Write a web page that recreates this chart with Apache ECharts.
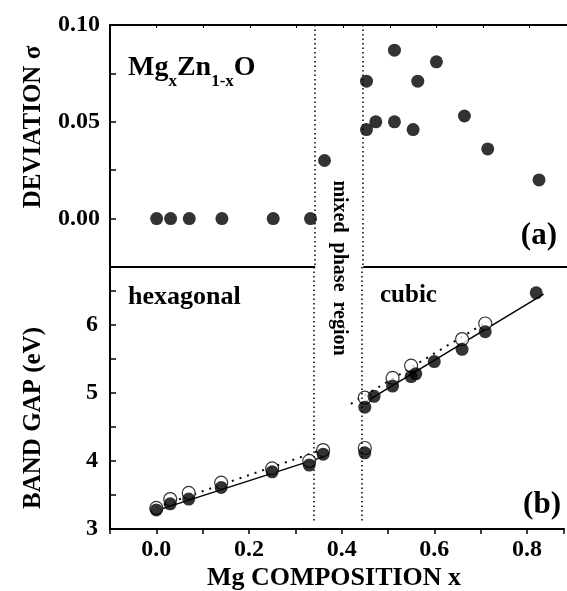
<!DOCTYPE html>
<html lang="en">
<head>
    <meta charset="utf-8">
    <title>MgZnO band gap</title>
    <script src="https://cdn.jsdelivr.net/npm/echarts/dist/echarts.min.js"></script>
    <style>
        html, body { margin: 0; padding: 0; background: #fff; }
        #chart { width: 567px; height: 591px; }
    </style>
</head>
<body>
    <div id="chart"></div>

    <script>
        // panel (a): deviation sigma
        const sigX = [0, 0.03, 0.07, 0.14, 0.25, 0.33, 0.36, 0.45, 0.45, 0.47, 0.51, 0.51, 0.55, 0.56, 0.60, 0.66, 0.71, 0.82];
        const sigY = [0, 0, 0, 0, 0, 0, 0.030, 0.071, 0.046, 0.050, 0.087, 0.050, 0.046, 0.071, 0.081, 0.053, 0.036, 0.020];

        // panel (b): band gap, filled and open symbols
        const gapX = [0, 0.03, 0.07, 0.14, 0.25, 0.33, 0.36, 0.45, 0.45, 0.47, 0.51, 0.55, 0.56, 0.60, 0.66, 0.71, 0.82];
        const gapFilled = [3.28, 3.37, 3.44, 3.61, 3.84, 3.94, 4.10, 4.12, 4.79, 4.95, 5.10, 5.24, 5.28, 5.46, 5.64, 5.90, 6.47];
        const openX = [0, 0.03, 0.07, 0.14, 0.25, 0.33, 0.36, 0.45, 0.45, 0.51, 0.55, 0.66, 0.71];
        const openY = [3.31, 3.44, 3.53, 3.68, 3.89, 4.00, 4.16, 4.19, 4.93, 5.22, 5.40, 5.79, 6.02];

        // linear fits (end points)
        const hexSolid = [[0, 3.27], [0.36, 4.06]];
        const hexDotted = [[0, 3.32], [0.36, 4.17]];
        const cubSolid = [[0.45, 4.86], [0.836, 6.45]];
        const cubDotted = [[0.42, 4.84], [0.71, 6.03]];

        // phase boundaries
        const phaseBounds = [0.34, 0.443];

        const xTicks = { min: -0.1, max: 0.88, interval: 0.1 };
        const sigTicks = { min: -0.025, max: 0.1, interval: 0.025 };
        const gapTicks = { min: 3, max: 6.85, interval: 0.5 };

        const FONT = "'Liberation Serif', 'Times New Roman', serif";
        const pair = (xs, ys) => xs.map((x, i) => [x, ys[i]]);

        const labelStyle = { color: '#000', fontFamily: FONT, fontWeight: 'bold', fontSize: 24 };
        const axisLine = { show: true, onZero: false, lineStyle: { color: '#000', width: 2 } };

        const chart = echarts.init(document.getElementById('chart'));
        const option = {
            animation: false,
            backgroundColor: '#fff',
            grid: [
                { left: 110, right: 0, top: 25, height: 242 },
                { left: 110, right: 0, top: 267, height: 262 }
            ],
            xAxis: [
                {
                    gridIndex: 0, type: 'value', position: 'top',
                    min: xTicks.min, max: xTicks.max, interval: xTicks.interval,
                    axisLine: axisLine,
                    axisTick: { inside: true, length: 3, lineStyle: { color: '#000', width: 1 } },
                    axisLabel: { show: false },
                    splitLine: { show: false }
                },
                {
                    gridIndex: 1, type: 'value', position: 'bottom',
                    min: xTicks.min, max: xTicks.max, interval: xTicks.interval,
                    axisLine: axisLine,
                    axisTick: { length: 5, lineStyle: { color: '#000', width: 1.5 } },
                    axisLabel: Object.assign({
                        margin: 9,
                        formatter: v => (Math.abs(Math.round(v * 10)) % 2 === 0 && v >= -0.001 && v < 0.85) ? v.toFixed(1) : ''
                    }, labelStyle),
                    splitLine: { show: false }
                }
            ],
            yAxis: [
                {
                    gridIndex: 0, type: 'value',
                    min: sigTicks.min, max: sigTicks.max, interval: sigTicks.interval,
                    axisLine: axisLine,
                    axisTick: { inside: true, length: 6, lineStyle: { color: '#000', width: 1.5 } },
                    axisLabel: Object.assign({
                        margin: 10,
                        formatter: v => {
                            const k = v / 0.05;
                            return (v >= -0.001 && Math.abs(k - Math.round(k)) < 1e-6) ? v.toFixed(2) : '';
                        }
                    }, labelStyle),
                    splitLine: { show: false }
                },
                {
                    gridIndex: 1, type: 'value',
                    min: gapTicks.min, max: gapTicks.max, interval: gapTicks.interval,
                    axisLine: axisLine,
                    axisTick: { inside: true, length: 6, lineStyle: { color: '#000', width: 1.5 } },
                    axisLabel: Object.assign({
                        margin: 12,
                        formatter: v => (Math.abs(v - Math.round(v)) < 1e-6) ? String(Math.round(v)) : ''
                    }, labelStyle),
                    splitLine: { show: false }
                }
            ],
            series: [
                {
                    name: 'sigma', type: 'scatter', xAxisIndex: 0, yAxisIndex: 0,
                    data: pair(sigX, sigY),
                    symbolSize: 13,
                    itemStyle: { color: '#000' },
                    clip: false,
                    z: 5,
                    markLine: {
                        silent: true, symbol: 'none', label: { show: false },
                        data: [
                            [{ coord: [phaseBounds[0], sigTicks.max] }, { coord: [phaseBounds[0], sigTicks.min] }],
                            [{ coord: [phaseBounds[1], sigTicks.max] }, { coord: [phaseBounds[1], sigTicks.min] }]
                        ],
                        lineStyle: { color: '#000', width: 1.5, type: [1.5, 3] }
                    }
                },
                {
                    // divider between the two panels, broken in the mixed region
                    name: 'divider', type: 'line', xAxisIndex: 0, yAxisIndex: 0,
                    data: [], symbol: 'none',
                    markLine: {
                        silent: true, symbol: 'none', label: { show: false },
                        data: [
                            [{ coord: [xTicks.min, sigTicks.min] }, { coord: [phaseBounds[0], sigTicks.min] }],
                            [{ coord: [phaseBounds[1], sigTicks.min] }, { coord: [xTicks.max, sigTicks.min] }]
                        ],
                        lineStyle: { color: '#000', width: 2, type: 'solid' }
                    }
                },
                {
                    name: 'hexSolid', type: 'line', xAxisIndex: 1, yAxisIndex: 1,
                    data: hexSolid, symbol: 'none',
                    lineStyle: { color: '#000', width: 1.5 },
                    markLine: {
                        silent: true, symbol: 'none', label: { show: false },
                        data: [
                            [{ coord: [phaseBounds[0], gapTicks.max] }, { coord: [phaseBounds[0], 3.08] }],
                            [{ coord: [phaseBounds[1], gapTicks.max] }, { coord: [phaseBounds[1], 3.08] }]
                        ],
                        lineStyle: { color: '#000', width: 1.5, type: [1.5, 3] }
                    }
                },
                {
                    name: 'hexDotted', type: 'line', xAxisIndex: 1, yAxisIndex: 1,
                    data: hexDotted, symbol: 'none',
                    lineStyle: { color: '#000', width: 2, type: [2, 6] }
                },
                {
                    name: 'cubSolid', type: 'line', xAxisIndex: 1, yAxisIndex: 1,
                    data: cubSolid, symbol: 'none',
                    lineStyle: { color: '#000', width: 1.5 }
                },
                {
                    name: 'cubDotted', type: 'line', xAxisIndex: 1, yAxisIndex: 1,
                    data: cubDotted, symbol: 'none',
                    lineStyle: { color: '#000', width: 2, type: [2, 6] }
                },
                {
                    name: 'open', type: 'scatter', xAxisIndex: 1, yAxisIndex: 1,
                    data: pair(openX, openY),
                    symbolSize: 13,
                    itemStyle: { color: '#fff', borderColor: '#000', borderWidth: 1.2 },
                    z: 4
                },
                {
                    name: 'filled', type: 'scatter', xAxisIndex: 1, yAxisIndex: 1,
                    data: pair(gapX, gapFilled),
                    symbolSize: 13,
                    itemStyle: { color: '#000' },
                    z: 5
                }
            ],
            graphic: [
                {
                    type: 'text', x: 34, y: 127, rotation: Math.PI / 2,
                    style: { text: 'DEVIATION σ', fill: '#000', font: 'bold 25px ' + FONT, align: 'center', verticalAlign: 'middle' }
                },
                {
                    type: 'text', x: 34, y: 418, rotation: Math.PI / 2,
                    style: { text: 'BAND GAP (eV)', fill: '#000', font: 'bold 25px ' + FONT, align: 'center', verticalAlign: 'middle' }
                },
                {
                    type: 'text', x: 334, y: 578,
                    style: { text: 'Mg COMPOSITION x', fill: '#000', font: 'bold 26px ' + FONT, align: 'center', verticalAlign: 'middle' }
                },
                {
                    type: 'text', x: 128, y: 54,
                    style: {
                        text: '{b|Mg}{s|x}{b|Zn}{s|1-x}{b|O}',
                        fill: '#000', verticalAlign: 'top',
                        rich: {
                            b: { fontFamily: FONT, fontWeight: 'bold', fontSize: 28, lineHeight: 30, verticalAlign: 'top' },
                            s: { fontFamily: FONT, fontWeight: 'bold', fontSize: 17, lineHeight: 17, padding: [19, 0, 0, 0], verticalAlign: 'top' }
                        }
                    }
                },
                {
                    type: 'text', x: 557, y: 236,
                    style: { text: '(a)', fill: '#000', font: 'bold 31px ' + FONT, align: 'right', verticalAlign: 'middle' }
                },
                {
                    type: 'text', x: 561, y: 505,
                    style: { text: '(b)', fill: '#000', font: 'bold 31px ' + FONT, align: 'right', verticalAlign: 'middle' }
                },
                {
                    type: 'text', x: 128, y: 297,
                    style: { text: 'hexagonal', fill: '#000', font: 'bold 26px ' + FONT, align: 'left', verticalAlign: 'middle' }
                },
                {
                    type: 'text', x: 380, y: 296,
                    style: { text: 'cubic', fill: '#000', font: 'bold 25px ' + FONT, align: 'left', verticalAlign: 'middle' }
                },
                {
                    type: 'text', x: 339, y: 268, rotation: -Math.PI / 2,
                    style: { text: 'mixed  phase  region', fill: '#000', font: 'bold 20px ' + FONT, align: 'center', verticalAlign: 'middle' }
                }
            ]
        };
        chart.setOption(option);
    </script>
</body>
</html>
